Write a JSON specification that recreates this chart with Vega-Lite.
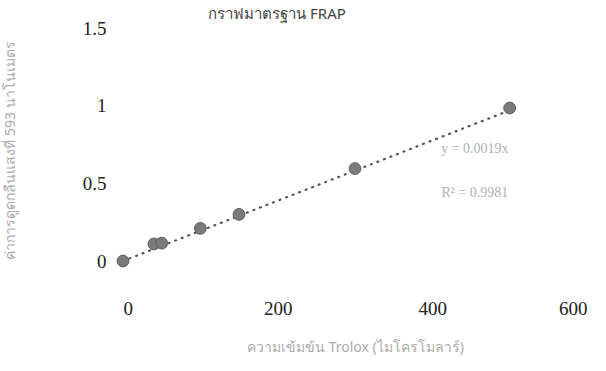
{
  "$schema": "https://vega.github.io/schema/vega-lite/v6.json",
  "width": 464,
  "height": 233,
  "autosize": {"type": "none"},
  "padding": {"left": 123, "top": 28, "right": 19, "bottom": 110},
  "background": "white",
  "config": {"view": {"stroke": null}, "font": "Liberation Serif"},
  "title": {"text": "กราฟมาตรฐาน FRAP", "font": "Noto Sans", "fontSize": 15, "fontWeight": "normal", "color": "#444444", "anchor": "middle", "dx": -78, "offset": -3},
  "datasets": {
    "points": [
      {"conc": 0, "abs": 0.0},
      {"conc": 40, "abs": 0.11},
      {"conc": 50, "abs": 0.115},
      {"conc": 100, "abs": 0.21},
      {"conc": 150, "abs": 0.3},
      {"conc": 300, "abs": 0.595},
      {"conc": 500, "abs": 0.985}
    ],
    "trend": [
      {"conc": 0, "abs": 0.0},
      {"conc": 500, "abs": 0.97}
    ],
    "notes": [
      {"conc": 455, "abs": 0.72, "label": "y = 0.0019x"},
      {"conc": 455, "abs": 0.44, "label": "R² = 0.9981"}
    ]
  },
  "layer": [
    {
      "data": {"name": "trend"},
      "mark": {"type": "line", "color": "#555555", "strokeWidth": 2.2, "strokeDash": [1, 6], "strokeCap": "round"},
      "encoding": {
        "x": {"field": "conc", "type": "quantitative", "scale": {"domain": [0, 600], "nice": false},
          "axis": {"values": [0, 200, 400, 600], "format": "d", "title": "ความเข้มข้น Trolox (ไมโครโมลาร์)", "titleFont": "Noto Sans", "titleFontSize": 14, "titleFontWeight": "normal", "titleColor": "#aaaaaa", "titlePadding": 22, "labelFontSize": 19, "labelColor": "#222222", "labelPadding": 38, "domain": false, "ticks": false, "grid": false, "labelFont": "Liberation Serif"}},
        "y": {"field": "abs", "type": "quantitative", "scale": {"domain": [0, 1.5], "nice": false},
          "axis": {"values": [0, 0.5, 1, 1.5], "format": "~g", "title": "ค่าการดูดกลืนแสงที่ 593 นาโนเมตร", "titleFont": "Noto Sans", "titleFontSize": 14, "titleFontWeight": "normal", "titleColor": "#aaaaaa", "titleX": -113, "titleY": 122, "titleAlign": "center", "titleBaseline": "middle", "labelFontSize": 19, "labelColor": "#222222", "labelPadding": 17, "domain": false, "ticks": false, "grid": false, "labelFont": "Liberation Serif"}}
      }
    },
    {
      "data": {"name": "points"},
      "mark": {"type": "point", "filled": true, "color": "#7a7a7a", "size": 140, "stroke": "#5f5f5f", "strokeWidth": 1, "opacity": 1},
      "encoding": {
        "x": {"field": "conc", "type": "quantitative"},
        "y": {"field": "abs", "type": "quantitative"}
      }
    },
    {
      "data": {"name": "notes"},
      "mark": {"type": "text", "font": "Liberation Serif", "fontSize": 14, "color": "#b0b0b0", "align": "center"},
      "encoding": {
        "x": {"field": "conc", "type": "quantitative"},
        "y": {"field": "abs", "type": "quantitative"},
        "text": {"field": "label"}
      }
    }
  ]
}
